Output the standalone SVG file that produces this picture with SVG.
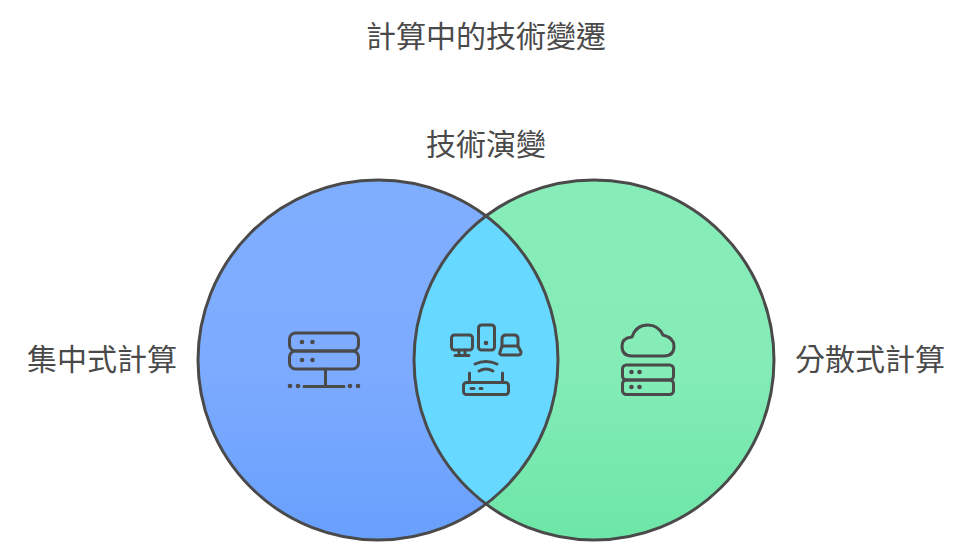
<svg xmlns="http://www.w3.org/2000/svg" width="972" height="560" viewBox="0 0 972 560">
<style>
text{font-family:"Noto Sans CJK TC","Noto Sans CJK SC",sans-serif;font-size:30px;fill:#4a4a4a;text-anchor:middle}
.c{stroke:#4a4a4a;stroke-width:3;fill:none}
.i{stroke:#4a4a4a;stroke-width:3;fill:none;stroke-linecap:round;stroke-linejoin:round}
.d{fill:#4a4a4a}
</style>
<defs>
<linearGradient id="gl" x1="0" y1="0" x2="0" y2="1"><stop offset="0" stop-color="#80aeff"/><stop offset="0.5" stop-color="#7dabff"/><stop offset="1" stop-color="#68a0fd"/></linearGradient>
<linearGradient id="gr" x1="0" y1="0" x2="0" y2="1"><stop offset="0" stop-color="#86edb9"/><stop offset="0.5" stop-color="#85ecb8"/><stop offset="1" stop-color="#6de6a7"/></linearGradient>
<clipPath id="lens"><circle cx="378" cy="360" r="180"/></clipPath>
</defs>
<g id="title"><text x="486" y="47">計算中的技術變遷</text></g>
<g id="node-left"><circle cx="378" cy="360" r="180" fill="url(#gl)"/></g>
<g id="node-right"><circle cx="594" cy="360" r="180" fill="url(#gr)"/></g>
<g id="node-overlap"><circle cx="594" cy="360" r="180" fill="#67d8ff" clip-path="url(#lens)"/></g>
<g id="connectors"><circle class="c" cx="378" cy="360" r="180"/><circle class="c" cx="594" cy="360" r="180"/></g>
<g id="label-top"><text x="486" y="155">技術演變</text></g>
<g id="label-left"><text x="102" y="370">集中式計算</text></g>
<g id="label-right"><text x="870" y="370">分散式計算</text></g>
<g id="icon-left">
<rect class="i" x="289.500" y="333" width="69" height="18" rx="6"/>
<rect class="i" x="289.500" y="351" width="69" height="18" rx="6"/>
<path class="i" d="M325.500 369V386.500M304 386.500H344"/>
<circle class="d" cx="302" cy="342" r="2.300"/><circle class="d" cx="312.500" cy="342" r="2.300"/>
<circle class="d" cx="302" cy="360" r="2.300"/><circle class="d" cx="312.500" cy="360" r="2.300"/>
<circle class="d" cx="290" cy="386" r="2.300"/><circle class="d" cx="298" cy="386" r="2.300"/>
<circle class="d" cx="350" cy="386" r="2.300"/><circle class="d" cx="358" cy="386" r="2.300"/>
</g>
<g id="icon-middle">
<rect class="i" x="451.500" y="335" width="21" height="15" rx="3"/>
<path class="i" d="M459 350V355M465 350V355M455 355.500H469"/>
<rect class="i" x="478.500" y="325" width="16" height="25" rx="3"/>
<circle class="d" cx="486" cy="343" r="2.300"/>
<path class="i" d="M502 347V339Q502 335 506 335H514Q518 335 518 339V347M502 346H518L521 352Q521 355 518 355H502Q499 355 500 352Z"/>
<path class="i" d="M475 364Q486 359 497 364M479 371Q486 367 493 371"/>
<rect class="i" x="463.500" y="382.500" width="45" height="12" rx="3"/>
<path class="i" d="M469.500 382V373M502.500 382V373M471 388.500H474M480 388.500H482"/>
</g>
<g id="icon-right">
<path class="i" d="M632 356Q622 356 622 346Q622 338 632 337Q636 325 648 325Q658 325 663 335Q674 338 674 346Q674 356 664 356Z"/>
<rect class="i" x="622.500" y="365" width="51" height="15" rx="4"/>
<rect class="i" x="622.500" y="380" width="51" height="14.500" rx="4"/>
<circle class="d" cx="631.500" cy="372" r="2.300"/><circle class="d" cx="639.500" cy="372" r="2.300"/>
<circle class="d" cx="631.500" cy="387" r="2.300"/><circle class="d" cx="639.500" cy="387" r="2.300"/>
</g>
</svg>
